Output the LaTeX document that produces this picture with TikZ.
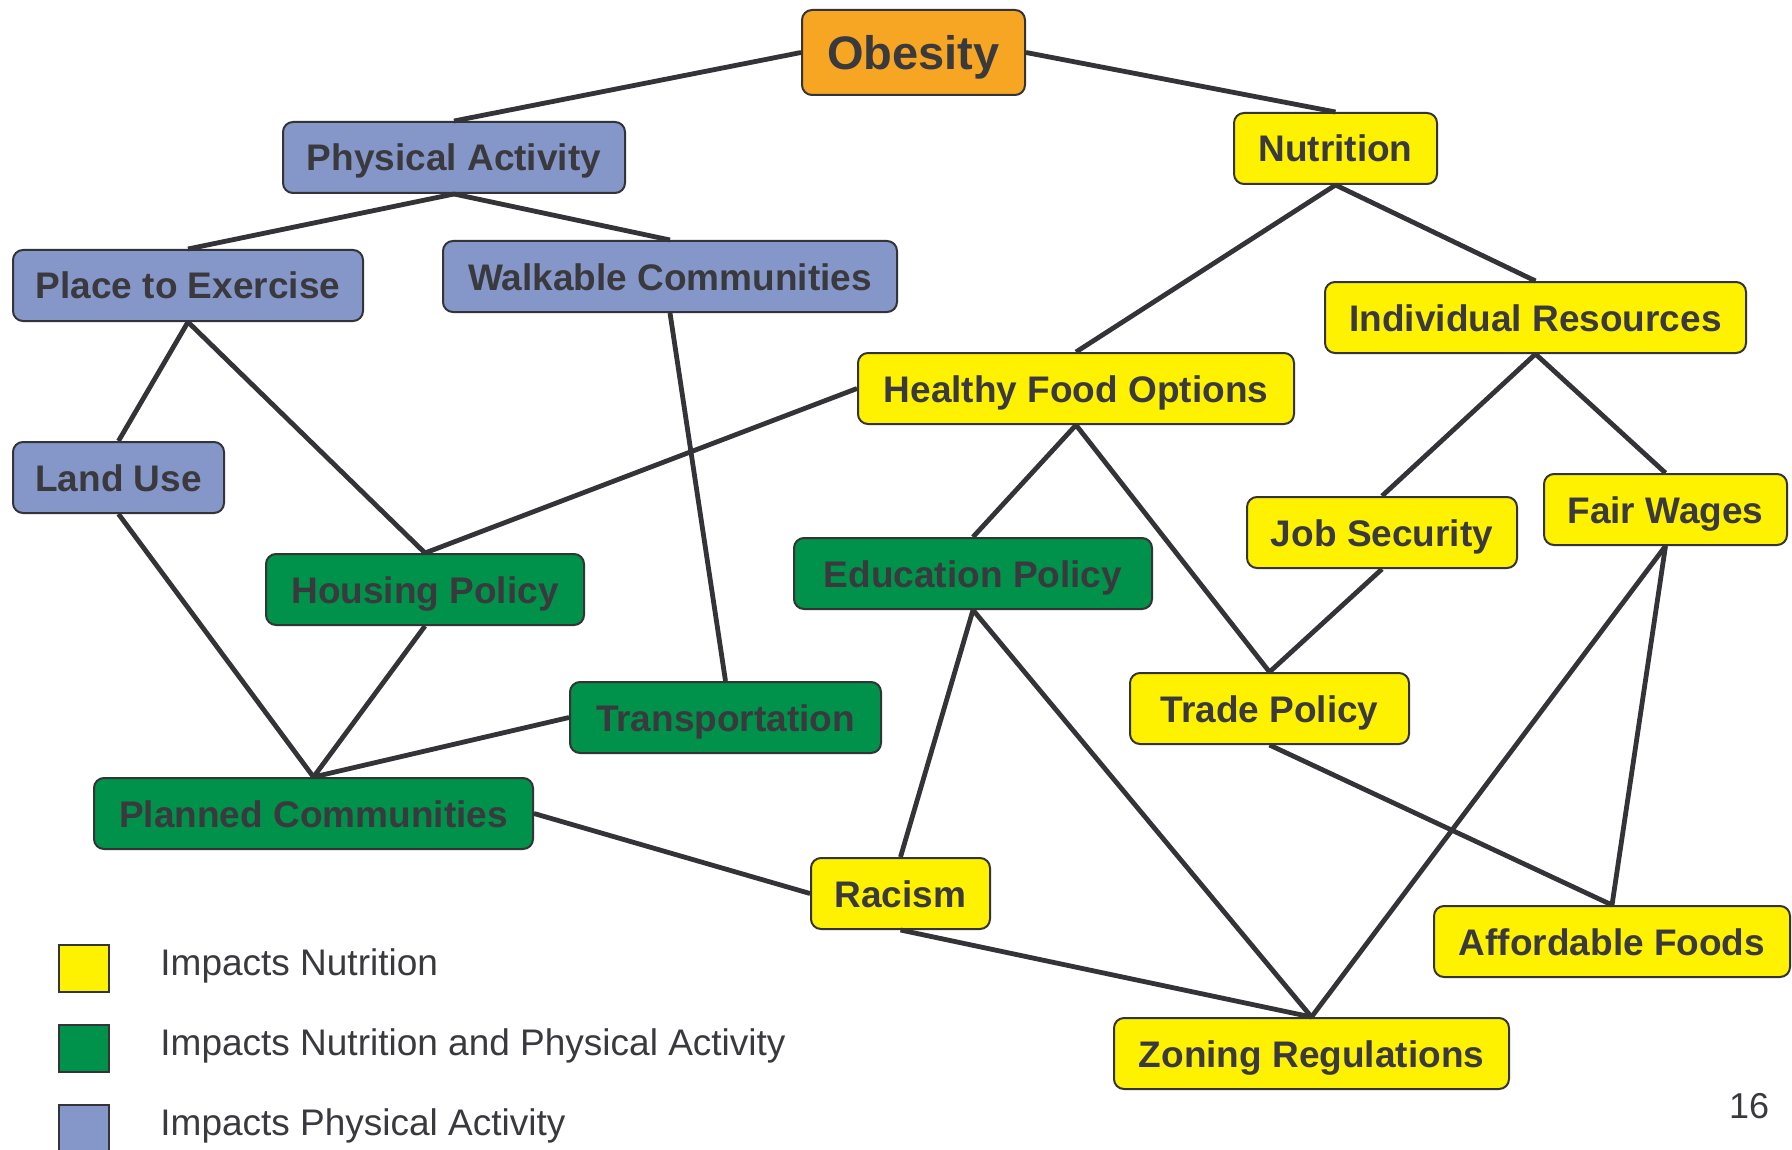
\documentclass[tikz,border=0pt]{standalone}
\usepackage{fontspec}
\setmainfont{Liberation Sans}
\definecolor{lc}{HTML}{333338}
\definecolor{tc}{HTML}{3A3A3E}
\definecolor{pablue}{HTML}{8596C8}
\definecolor{nyellow}{HTML}{FFF200}
\definecolor{bgreen}{HTML}{00914A}
\definecolor{obor}{HTML}{F6A623}
\tikzset{
  box/.style={draw=lc, line width=1pt, rounded corners=5pt, minimum height=35.5pt,
    inner sep=0pt, text=tc, text height=13.5pt, text depth=0pt,
    font=\fontsize{18.5}{22}\selectfont\bfseries},
  pabox/.style={box, fill=pablue},
  nubox/.style={box, fill=nyellow},
  bobox/.style={box, fill=bgreen},
  link/.style={draw=lc, line width=2.4pt},
  legsq/.style={draw=lc, line width=1pt, minimum width=25pt, minimum height=23.5pt, inner sep=0pt},
  legtxt/.style={anchor=west, inner sep=0pt, text=tc, font=\fontsize{18.5}{22}\selectfont}
}
\begin{document}
\begin{tikzpicture}[x=0.5pt,y=-0.5pt]
\useasboundingbox (0,0) rectangle (1792,1150);
\fill[white] (0,0) rectangle (1792,1150);
% connectors drawn after nodes are defined, on top of nothing else
% nodes
\node[box, fill=obor, minimum width=111.5pt, minimum height=42.5pt, text height=17pt,
  font=\fontsize{23.5}{28}\selectfont\bfseries] (ob) at (913.5,52.5) {Obesity};
\node[pabox, minimum width=171pt] (pa) at (454,157.5) {Physical Activity};
\node[nubox, minimum width=101.5pt] (nu) at (1335.5,148.5) {Nutrition};
\node[pabox, minimum width=175pt] (pe) at (188,285.5) {Place to Exercise};
\node[pabox, minimum width=227pt] (wc) at (670,276.5) {Walkable Communities};
\node[nubox, minimum width=210.5pt] (ir) at (1535.5,317.5) {Individual Resources};
\node[nubox, minimum width=218pt] (hf) at (1076,388.5) {Healthy Food Options};
\node[pabox, minimum width=105.5pt] (lu) at (118.5,477.5) {Land Use};
\node[nubox, minimum width=135pt] (js) at (1382,532.5) {Job Security};
\node[nubox, minimum width=121.5pt] (fw) at (1665.5,509.5) {Fair Wages};
\node[bobox, minimum width=179pt] (ep) at (973,573.5) {Education Policy};
\node[bobox, minimum width=159pt] (hp) at (425,589.5) {Housing Policy};
\node[nubox, minimum width=139.5pt] (tp) at (1269.5,708.5) {Trade Policy};
\node[bobox, minimum width=155.5pt] (tr) at (725.5,717.5) {Transportation};
\node[bobox, minimum width=219.5pt] (pc) at (313.5,813.5) {Planned Communities};
\node[nubox, minimum width=89.5pt] (ra) at (900.5,893.5) {Racism};
\node[nubox, minimum width=178pt] (af) at (1612,941.5) {Affordable Foods};
\node[nubox, minimum width=197.5pt] (zr) at (1311.5,1053.5) {Zoning Regulations};
% connectors
\draw[link] (ob.west) -- (pa.north);
\draw[link] (ob.east) -- (nu.north);
\draw[link] (pa.south) -- (pe.north);
\draw[link] (pa.south) -- (wc.north);
\draw[link] (pe.south) -- (lu.north);
\draw[link] (pe.south) -- (hp.north);
\draw[link] (wc.south) -- (tr.north);
\draw[link] (hf.west) -- (hp.north);
\draw[link] (nu.south) -- (hf.north);
\draw[link] (nu.south) -- (ir.north);
\draw[link] (ir.south) -- (js.north);
\draw[link] (ir.south) -- (fw.north);
\draw[link] (hf.south) -- (ep.north);
\draw[link] (hf.south) -- (tp.north);
\draw[link] (lu.south) -- (pc.north);
\draw[link] (hp.south) -- (pc.north);
\draw[link] (tr.west) -- (pc.north);
\draw[link] (pc.east) -- (ra.west);
\draw[link] (ep.south) -- (ra.north);
\draw[link] (ep.south) -- (zr.north);
\draw[link] (js.south) -- (tp.north);
\draw[link] (tp.south) -- (af.north);
\draw[link] (fw.south) -- (zr.north);
\draw[link] (fw.south) -- (af.north);
\draw[link] (ra.south) -- (zr.north);
% legend
\node[legsq, fill=nyellow] (l1) at (84,968.5) {};
\node[legsq, fill=bgreen] (l2) at (84,1048.5) {};
\node[legsq, fill=pablue] (l3) at (84,1128.5) {};
\node[legtxt] (t1) at (160,966) {Impacts Nutrition};
\node[legtxt] (t2) at (160,1046) {Impacts Nutrition and Physical Activity};
\node[legtxt] (t3) at (160,1126) {Impacts Physical Activity};
\node[text=tc, inner sep=0pt, font=\fontsize{18}{22}\selectfont] (pg) at (1749,1106) {16};
\end{tikzpicture}
\end{document}
